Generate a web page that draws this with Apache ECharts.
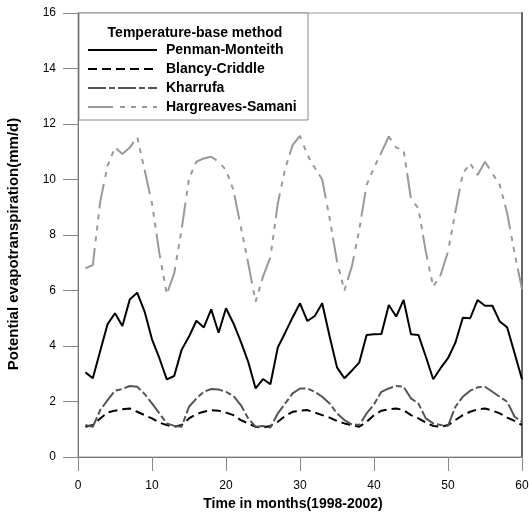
<!DOCTYPE html>
<html>
<head>
<meta charset="utf-8">
<script src="https://cdn.jsdelivr.net/npm/echarts@6/dist/echarts.min.js"></script>
<style>html,body{margin:0;padding:0;background:#fff}#c{width:529px;height:516px}</style>
</head>
<body>
<div id="c"></div>
<script>
const months = Array.from({length: 60}, (_, i) => i + 1);
const xTicks = [0, 10, 20, 30, 40, 50, 60];
const yTicks = [0, 2, 4, 6, 8, 10, 12, 14, 16];
const seriesNames = ['Penman-Monteith', 'Blancy-Criddle', 'Kharrufa', 'Hargreaves-Samani'];
const legendTitle = 'Temperature-base method';

const penman = [3.05,2.84,3.82,4.79,5.18,4.72,5.68,5.92,5.24,4.24,3.56,2.80,2.92,3.86,4.34,4.91,4.67,5.32,4.48,5.36,
  4.82,4.16,3.43,2.47,2.81,2.62,3.95,4.48,5.03,5.54,4.90,5.08,5.54,4.35,3.23,2.84,3.11,3.40,4.40,4.42,
  4.43,5.48,5.06,5.66,4.42,4.40,3.62,2.80,3.20,3.56,4.12,5.02,5.00,5.66,5.45,5.45,4.88,4.67,3.74,2.80];
const blancy = [1.09,1.15,1.39,1.60,1.67,1.72,1.75,1.63,1.51,1.39,1.24,1.15,1.09,1.15,1.39,1.55,1.63,1.69,1.67,1.60,
  1.51,1.33,1.21,1.09,1.06,1.12,1.27,1.48,1.63,1.67,1.69,1.60,1.51,1.42,1.30,1.21,1.15,1.09,1.27,1.51,
  1.67,1.72,1.75,1.69,1.51,1.39,1.24,1.12,1.09,1.15,1.33,1.51,1.63,1.72,1.75,1.67,1.57,1.42,1.30,1.15];
const kharrufa = [1.15,1.09,1.69,2.05,2.39,2.45,2.56,2.53,2.27,1.93,1.57,1.21,1.12,1.09,1.81,2.11,2.35,2.45,2.43,2.35,
  2.20,1.87,1.39,1.09,1.12,1.06,1.57,1.93,2.29,2.47,2.47,2.35,2.17,1.93,1.57,1.33,1.18,1.15,1.57,1.90,
  2.35,2.47,2.56,2.53,2.11,1.93,1.39,1.21,1.15,1.12,1.81,2.17,2.39,2.51,2.53,2.35,2.17,1.99,1.45,1.27];
const hargreaves = [6.80,6.92,9.20,10.50,11.16,10.92,11.15,11.54,10.34,9.14,7.34,5.87,6.62,8.20,10.04,10.64,10.76,10.82,10.64,10.34,
  9.62,8.30,6.98,5.60,6.50,7.20,9.14,10.40,11.24,11.57,10.88,10.42,10.00,8.60,7.05,6.00,6.86,8.18,9.80,10.42,
  10.98,11.55,11.15,11.06,9.30,8.96,7.40,6.14,6.56,7.40,8.84,10.22,10.58,10.16,10.64,10.22,9.80,8.78,7.34,6.05];

const FONT = "'Liberation Sans', Arial, sans-serif";
const chart = echarts.init(document.getElementById('c'), null, {renderer: 'canvas'});

const styles = [
  {color: '#000', dash: null},
  {color: '#000', dash: [9, 5]},
  {color: '#555', dash: [18, 3, 6, 3]},
  {color: '#999', dash: [25, 7, 5, 6, 5, 6, 5, 6]}
];
const datasets = [penman, blancy, kharrufa, hargreaves];

const series = seriesNames.map((name, k) => ({
  name, type: 'line', data: months.map((m, i) => [m, datasets[k][i]]),
  symbol: 'none', animation: false,
  lineStyle: {color: styles[k].color, width: 2, type: styles[k].dash || 'solid'},
  itemStyle: {color: styles[k].color}
}));

const legendGraphics = [
  {type: 'rect', shape: {x: 79, y: 13, width: 229, height: 107}, style: {fill: '#fff', stroke: '#888', lineWidth: 1}, z: 0, silent: true},
  {type: 'text', x: 195, y: 33, style: {text: legendTitle, fontFamily: FONT, fontWeight: 'bold', fontSize: 14, fill: '#000', align: 'center', verticalAlign: 'middle'}, z: 1, silent: true}
];
seriesNames.forEach((name, k) => {
  const y = 50 + 19 * k;
  legendGraphics.push({type: 'line', shape: {x1: 88, y1: y, x2: 157, y2: y},
    style: {stroke: styles[k].color, lineWidth: 2, lineDash: styles[k].dash || null}, z: 1, silent: true});
  legendGraphics.push({type: 'text', x: 166, y: y, style: {text: name, fontFamily: FONT, fontWeight: 'bold', fontSize: 14, fill: '#000', align: 'left', verticalAlign: 'middle'}, z: 1, silent: true});
});

chart.setOption({
  animation: false,
  backgroundColor: '#fff',
  grid: {left: 78, right: 7, top: 13, bottom: 59, show: true, borderColor: '#999', borderWidth: 1,
    containLabel: false, outerBoundsMode: 'none'},
  xAxis: {
    type: 'value', min: 0, max: 60, interval: 10,
    name: 'Time in months(1998-2002)', nameLocation: 'middle', nameGap: 35,
    nameTextStyle: {fontFamily: FONT, fontWeight: 'bold', fontSize: 14, color: '#000', padding: [0, 14, 0, 0]},
    axisLine: {show: true, onZero: false, lineStyle: {color: '#777', width: 1}},
    axisTick: {show: true, inside: false, length: 14, lineStyle: {color: '#888'}},
    axisLabel: {margin: 23, fontFamily: FONT, fontSize: 12, color: '#000',
      formatter: v => xTicks.includes(v) ? String(v) : ''},
    splitLine: {show: false}
  },
  yAxis: [{
    type: 'value', min: 0, max: 16, interval: 2,
    name: 'Potential evapotranspiration(mm/d)', nameLocation: 'middle', nameGap: 57,
    nameTextStyle: {fontFamily: FONT, fontWeight: 'bold', fontSize: 15, color: '#000', padding: [0, 18, 0, 0]},
    axisLine: {show: true, lineStyle: {color: '#777', width: 1}},
    axisTick: {show: true, inside: false, length: 15, lineStyle: {color: '#888'}},
    axisLabel: {margin: 22, fontFamily: FONT, fontSize: 12, color: '#000',
      formatter: v => yTicks.includes(v) ? String(v) : ''},
    splitLine: {show: false}
  }, {
    type: 'value', min: 0, max: 16, position: 'right',
    axisLine: {show: true, lineStyle: {color: '#666', width: 2}},
    axisTick: {show: false}, axisLabel: {show: false}, splitLine: {show: false}
  }],
  graphic: legendGraphics,
  series
});
</script>
</body>
</html>
